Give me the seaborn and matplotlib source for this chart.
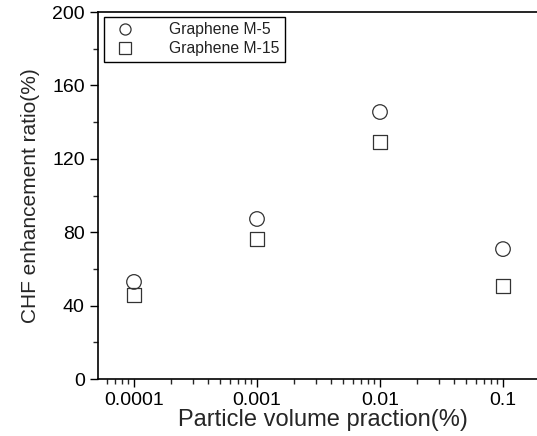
import numpy as np
import pandas as pd
import seaborn as sns
import matplotlib
matplotlib.use("Agg")
import matplotlib.pyplot as plt
from matplotlib.ticker import LogLocator, FixedLocator, MultipleLocator, FixedFormatter
from matplotlib.lines import Line2D

fractions = [0.0001, 0.001, 0.01, 0.1]
m5_values = [52.9, 87.2, 145.5, 70.8]
m15_values = [45.8, 76.3, 129.2, 50.7]
series_names = ["Graphene M-5", "Graphene M-15"]
xtick_labels = ["0.0001", "0.001", "0.01", "0.1"]

df = pd.DataFrame({
    "x": fractions * 2,
    "y": m5_values + m15_values,
    "series": [series_names[0]] * 4 + [series_names[1]] * 4,
})

sns.set_style("ticks")
plt.rcParams['font.family'] = ['Liberation Sans', 'DejaVu Sans']

fig = plt.figure(figsize=(5.37, 4.36), dpi=100)
ax = fig.add_axes([98/537, 1-379/436, (548-98)/537, (379-12)/436])

sns.scatterplot(data=df, x="x", y="y", style="series", markers={series_names[0]: "o", series_names[1]: "s"},
                s=110, ax=ax, legend=False)
for coll in ax.collections:
    coll.set_facecolor("none")
    coll.set_edgecolor("#333333")
    coll.set_linewidth(0.9)

ax.set_xscale("log")
left = 10 ** (-4 - 36/123)
right = 10 ** (-4 + (548-134)/123)
ax.set_xlim(left, right)
ax.set_ylim(0, 200)
ax.xaxis.set_major_locator(FixedLocator(fractions))
ax.xaxis.set_major_formatter(FixedFormatter(xtick_labels))
ax.xaxis.set_minor_locator(LogLocator(base=10, subs=np.arange(2, 10), numticks=20))
ax.yaxis.set_major_locator(MultipleLocator(40))
ax.yaxis.set_minor_locator(MultipleLocator(20))

ax.tick_params(axis="both", which="major", direction="out", length=6, width=1, labelsize=14, colors="black")
ax.tick_params(axis="both", which="minor", direction="out", length=3.5, width=1)
for side in ["left", "bottom", "top"]:
    ax.spines[side].set_linewidth(1.2)
    ax.spines[side].set_color("black")
ax.spines["right"].set_visible(False)

ax.set_xlabel("Particle volume praction(%)", fontsize=17, labelpad=0)
ax.set_ylabel("CHF enhancement ratio(%)", fontsize=15, labelpad=9)

handles = [Line2D([], [], marker="o", linestyle="none", markerfacecolor="none", markeredgecolor="#333333", markersize=8, markeredgewidth=0.9),
           Line2D([], [], marker="s", linestyle="none", markerfacecolor="none", markeredgecolor="#333333", markersize=8, markeredgewidth=0.9)]
leg = ax.legend(handles, series_names, loc="upper left", bbox_to_anchor=(6/450, 1-5/367), fontsize=11.3,
                frameon=True, fancybox=False, edgecolor="black", framealpha=1, handletextpad=1.8,
                borderpad=0.35, labelspacing=0.25, borderaxespad=0)
leg.get_frame().set_linewidth(1.0)
for t in leg.get_texts():
    t.set_color("#222222")

fig.savefig("out.png", dpi=100)
